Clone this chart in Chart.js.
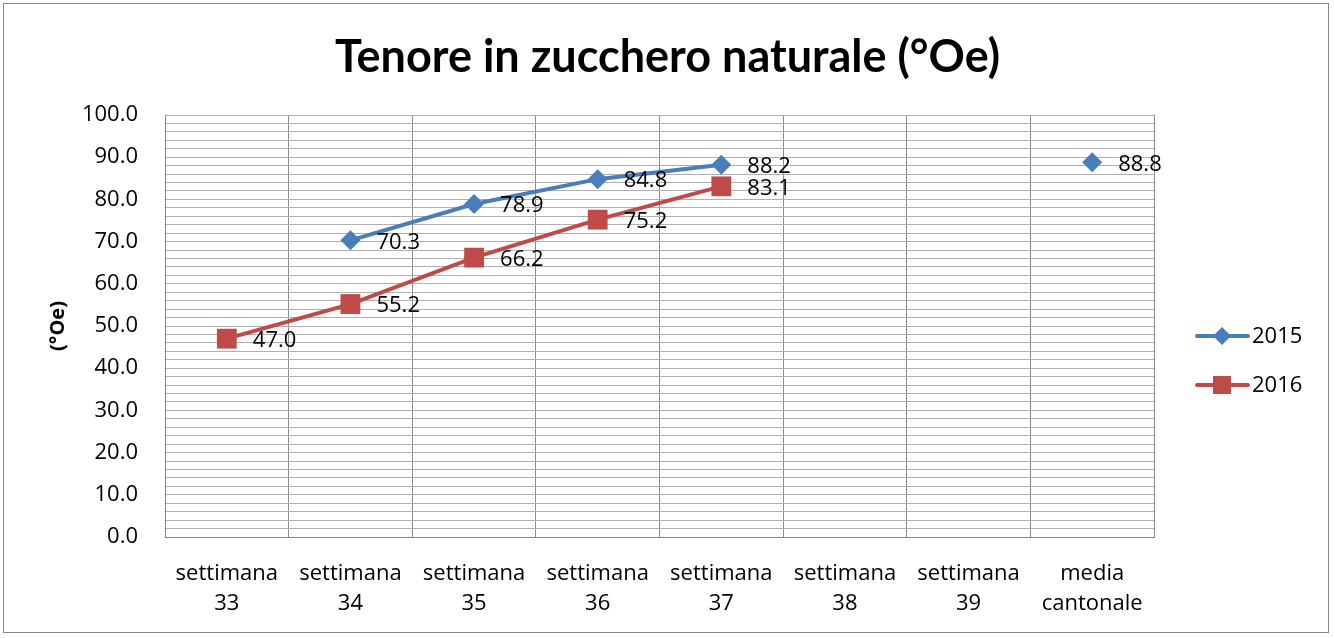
<!DOCTYPE html>
<html><head><meta charset="utf-8">
<script src="https://cdn.jsdelivr.net/npm/chart.js@4/dist/chart.umd.min.js"></script>
<style>
html,body{margin:0;padding:0;background:#fff;}
#wrap{position:absolute;left:0;top:0;width:1335px;height:638px;}
#frame{position:absolute;left:3px;top:3px;width:1326px;height:630px;border:1px solid #868686;box-sizing:border-box;pointer-events:none;}
</style></head>
<body>
<div id="wrap"><canvas id="c" width="1335" height="638"></canvas><div id="frame"></div></div>
<script>
const categories = [["settimana","33"],["settimana","34"],["settimana","35"],["settimana","36"],["settimana","37"],["settimana","38"],["settimana","39"],["media","cantonale"]];
const values2015 = [null, 70.3, 78.9, 84.8, 88.2, null, null, 88.8];
const values2016 = [47.0, 55.2, 66.2, 75.2, 83.1, null, null, null];
const seriesNames = ["2015", "2016"];
const chartTitle = "Tenore in zucchero naturale (°Oe)";
const yTitle = "(°Oe)";

const FONT = "'Open Sans', Lato, sans-serif";
const TFONT = "Lato, 'Open Sans', sans-serif";
const BLUE = "#4A7EBB", RED = "#BE4B48";

const labelPlugin = {
  id: 'labels',
  afterDatasetsDraw(chart) {
    const ctx = chart.ctx;
    ctx.save();
    ctx.font = "22px " + FONT;
    ctx.fillStyle = "#000";
    ctx.textAlign = "left";
    ctx.textBaseline = "middle";
    chart.data.datasets.forEach((ds, i) => {
      const meta = chart.getDatasetMeta(i);
      meta.data.forEach((pt, j) => {
        const v = ds.data[j];
        if (v === null || v === undefined) return;
        ctx.fillText(v.toFixed(1), pt.x + 26, pt.y + 2);
      });
    });
    ctx.restore();
  }
};

const legendPlugin = {
  id: 'customLegend',
  afterDraw(chart) {
    const ctx = chart.ctx;
    const items = [
      {name: seriesNames[0], color: BLUE, style: 'diamond', y: 336},
      {name: seriesNames[1], color: RED, style: 'square', y: 385}
    ];
    ctx.save();
    items.forEach(it => {
      ctx.strokeStyle = it.color; ctx.lineWidth = 4; ctx.lineCap = 'round';
      ctx.beginPath(); ctx.moveTo(1197, it.y); ctx.lineTo(1248, it.y); ctx.stroke();
      ctx.fillStyle = it.color;
      ctx.beginPath();
      if (it.style === 'diamond') {
        ctx.moveTo(1222, it.y - 9); ctx.lineTo(1231, it.y); ctx.lineTo(1222, it.y + 9); ctx.lineTo(1213, it.y); ctx.closePath();
      } else {
        ctx.rect(1213, it.y - 9, 18, 18);
      }
      ctx.fill();
      ctx.fillStyle = "#000"; ctx.font = "22px " + FONT; ctx.textAlign = 'left'; ctx.textBaseline = 'middle';
      ctx.fillText(it.name, 1252, it.y + 1);
    });
    ctx.restore();
  }
};

new Chart(document.getElementById('c'), {
  type: 'line',
  data: {
    labels: categories,
    datasets: [
      {label: seriesNames[0], data: values2015, borderColor: BLUE, backgroundColor: BLUE, borderWidth: 4,
       pointStyle: 'rectRot', pointRadius: 10, pointHoverRadius: 10, pointBorderWidth: 0, spanGaps: false, tension: 0},
      {label: seriesNames[1], data: values2016, borderColor: RED, backgroundColor: RED, borderWidth: 4,
       pointStyle: 'rect', pointRadius: 14, pointHoverRadius: 14, pointBorderWidth: 0, spanGaps: false, tension: 0}
    ]
  },
  options: {
    responsive: false,
    animation: false,
    layout: {padding: {left: 0, right: 0, top: 10, bottom: 20}},
    plugins: {
      legend: {display: false},
      tooltip: {enabled: false},
      title: {display: true, text: chartTitle, color: '#000',
              font: {family: TFONT, size: 45, weight: 'bold'}, padding: {top: 20, bottom: 31}}
    },
    scales: {
      x: {
        offset: true,
        grid: {offset: true, color: '#8c8c8c', lineWidth: 1, drawTicks: false},
        border: {color: '#868686'},
        ticks: {color: '#000', font: {family: FONT, size: 22, lineHeight: 1.4}, padding: 21, maxRotation: 0, autoSkip: false},
        afterFit(s) { s.height = 638 - 20 - 537; }
      },
      y: {
        min: 0, max: 100,
        grid: {color: '#b0b0b0', lineWidth: 1, drawTicks: false},
        border: {color: '#868686'},
        ticks: {stepSize: 2, autoSkip: false, color: '#000', font: {family: FONT, size: 22}, padding: 27,
                callback: v => (Math.round(v) % 10 === 0 ? v.toFixed(1) : '')},
        title: {display: true, text: yTitle, color: '#000', font: {family: FONT, size: 20, weight: 'bold'}, padding: {top: 46, bottom: 0}},
        afterFit(s) { s.width = 165; }
      },
      y2: {
        position: 'right',
        display: true,
        grid: {display: false, drawTicks: false},
        border: {display: false},
        ticks: {display: false},
        afterFit(s) { s.width = 181; }
      }
    }
  },
  plugins: [labelPlugin, legendPlugin]
});
</script>
</body></html>
